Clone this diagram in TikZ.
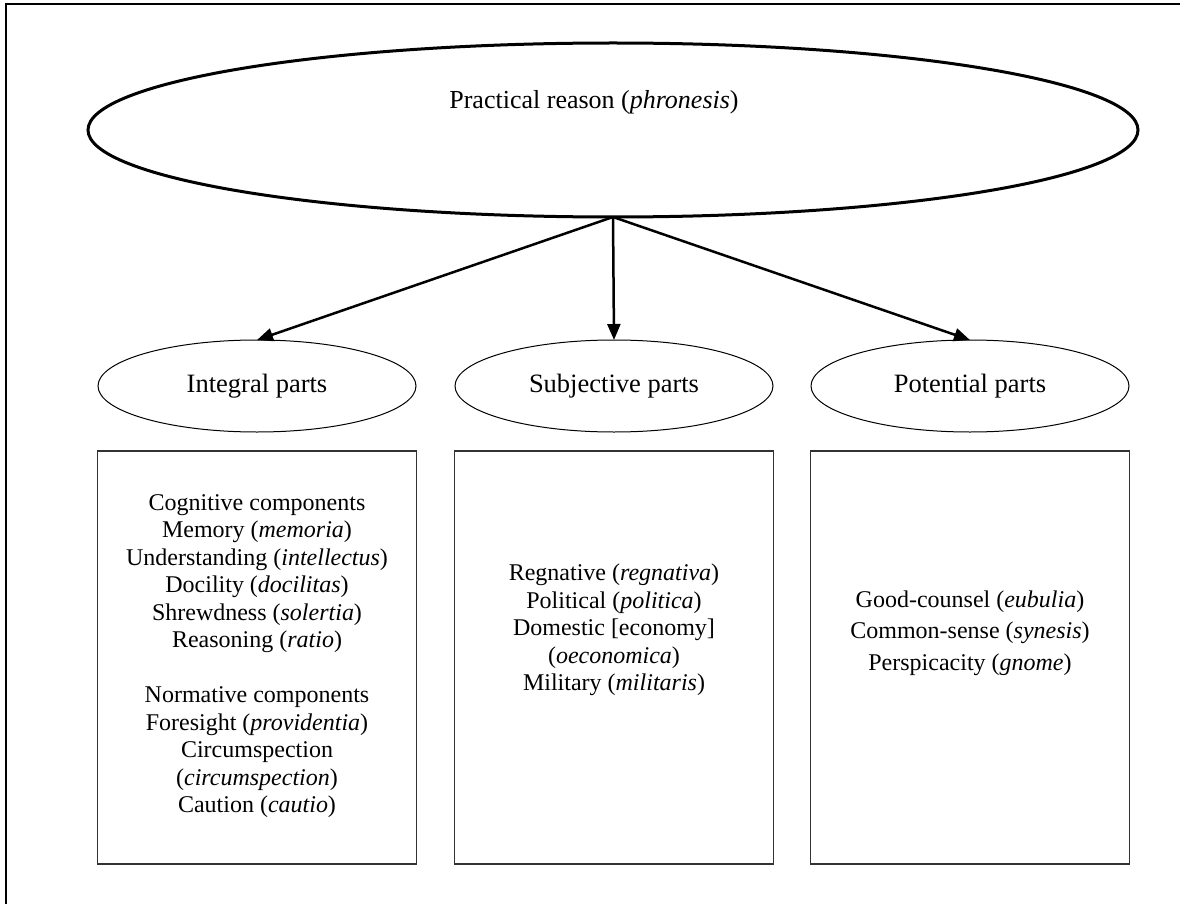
\documentclass[tikz,border=0pt]{standalone}
\usepackage{fontspec}
\setmainfont{Liberation Serif}
\usetikzlibrary{shapes.geometric,arrows.meta,positioning}

\begin{document}
\begin{tikzpicture}[x=1pt,y=-1pt]
\tikzstyle{every node}=[inner sep=0pt,outer sep=0pt];
\tikzstyle{bigoval}=[draw,ellipse,line width=3pt,minimum width=1050pt,minimum height=174pt];
\tikzstyle{partoval}=[draw,ellipse,line width=1pt,minimum width=318pt,minimum height=92pt,font=\fontsize{26.5}{30}\selectfont];
\tikzstyle{partbox}=[draw=black!80,line width=1.2pt,minimum width=319pt,minimum height=413pt];
\tikzstyle{boxtext}=[align=center,font=\fontsize{24}{27.5}\selectfont];
\tikzstyle{partarrow}=[line width=2.5pt,-{Triangle[length=16pt,width=13pt]}];

\useasboundingbox (0,0) rectangle (1180,904);
\draw[line width=2pt] (6,4) rectangle (1200,930);

\node[bigoval](phron) at(613,130){};
\node[font=\fontsize{26}{30}\selectfont](phrontext) at(594,102){Practical reason (\textit{phronesis})};

\node[partoval](integral) at(257,386){Integral parts};
\node[partoval](subjective) at(614,386){Subjective parts};
\node[partoval](potential) at(970,386){Potential parts};

\node[partbox](integralbox) at(257,657.5){};
\node[partbox](subjectivebox) at(614,657.5){};
\node[partbox](potentialbox) at(970,657.5){};

\node[boxtext](integraltext) at(257,656){Cognitive components\\
Memory (\textit{memoria})\\
Understanding (\textit{intellectus})\\
Docility (\textit{docilitas})\\
Shrewdness (\textit{solertia})\\
Reasoning (\textit{ratio})\\[27.5pt]
Normative components\\
Foresight (\textit{providentia})\\
Circumspection\\
(\textit{circumspection})\\
Caution (\textit{cautio})};

\node[boxtext](subjectivetext) at(614,630){Regnative (\textit{regnativa})\\
Political (\textit{politica})\\
Domestic [economy]\\
(\textit{oeconomica})\\
Military (\textit{militaris})};

\node[boxtext,font=\fontsize{24}{31.5}\selectfont](potentialtext) at(970,633){Good-counsel (\textit{eubulia})\\
Common-sense (\textit{synesis})\\
Perspicacity (\textit{gnome})};

\draw[partarrow] (phron.south)-- (integral.north);
\draw[partarrow] (phron.south)-- (subjective.north);
\draw[partarrow] (phron.south)-- (potential.north);

\end{tikzpicture}
\end{document}
